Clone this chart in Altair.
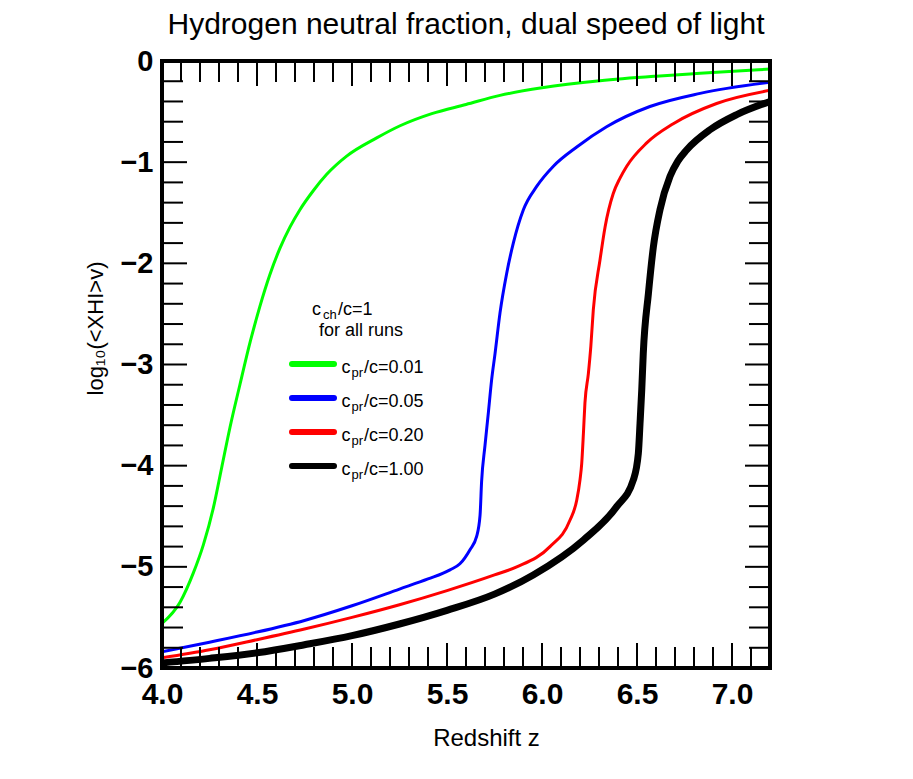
import altair as alt
import pandas as pd

# ---------------- data ----------------
series_names = ["cpr/c=0.01", "cpr/c=0.05", "cpr/c=0.20", "cpr/c=1.00"]
series_colors = ["#00ff00", "#0000ff", "#ff0000", "#000000"]
series_widths = [3, 3, 3, 7]

z_g = [4.0, 4.095, 4.165, 4.218, 4.27, 4.314, 4.358, 4.41, 4.465, 4.516, 4.568,
       4.621, 4.674, 4.726, 4.797, 4.867, 4.972, 5.13, 5.253, 5.42, 5.6, 5.779, 6.0, 6.305,
       6.6, 6.832, 7.2]
v_g = [-5.56, -5.35, -5.06, -4.78, -4.42, -4.02, -3.62, -3.20, -2.77, -2.42, -2.11,
       -1.85, -1.64, -1.47, -1.28, -1.12, -0.94, -0.76, -0.64, -0.52, -0.43, -0.34, -0.265, -0.195,
       -0.15, -0.122, -0.08]

z_b = [4.0, 4.25, 4.5, 4.75, 5.0, 5.25, 5.4, 5.516, 5.568, 5.621, 5.656, 5.674,
       5.682, 5.70, 5.718, 5.735, 5.753, 5.779, 5.814, 5.849, 5.902, 5.972, 6.06, 6.183,
       6.34, 6.568, 6.832, 7.2]
v_b = [-5.84, -5.745, -5.645, -5.53, -5.385, -5.22, -5.12, -5.03, -4.97, -4.83, -4.70, -4.49,
       -4.16, -3.80, -3.47, -3.15, -2.89, -2.49, -2.10, -1.80, -1.47, -1.24, -1.04, -0.85,
       -0.65, -0.45, -0.32, -0.21]

z_r = [4.0, 4.25, 4.5, 4.75, 5.0, 5.25, 5.5, 5.75, 5.867, 6.042, 6.147, 6.183, 6.2,
       6.209, 6.218, 6.226, 6.244, 6.257, 6.27, 6.305, 6.332, 6.375, 6.41, 6.446, 6.551, 6.691,
       6.919, 7.2]
v_r = [-5.90, -5.82, -5.72, -5.615, -5.50, -5.375, -5.235, -5.08, -5.00, -4.80, -4.54, -4.34, -4.14,
       -3.98, -3.68, -3.38, -3.09, -2.82, -2.46, -1.97, -1.64, -1.31, -1.16, -1.04, -0.81, -0.62,
       -0.42, -0.29]

z_k = [4.0, 4.25, 4.5, 4.75, 5.0, 5.25, 5.5, 5.75, 5.954, 6.218, 6.393, 6.481, 6.507,
       6.516, 6.525, 6.533, 6.56, 6.586, 6.621, 6.674, 6.715, 6.761, 6.884, 7.025, 7.2]
v_k = [-5.95, -5.905, -5.85, -5.77, -5.68, -5.565, -5.43, -5.27, -5.08, -4.735, -4.405, -4.14, -3.88,
       -3.58, -3.25, -2.89, -2.30, -1.84, -1.47, -1.14, -0.99, -0.88, -0.68, -0.53, -0.40]

x_labels = [4.0, 4.5, 5.0, 5.5, 6.0, 6.5, 7.0]
y_labels = [0, -1, -2, -3, -4, -5, -6]
x_minor = [round(4.0 + 0.1 * i, 1) for i in range(1, 32) if i % 5 != 0]
x_major = [4.5, 5.0, 5.5, 6.0, 6.5, 7.0]
y_minor = [round(-0.2 * i, 1) for i in range(1, 30) if i % 5 != 0]
y_major = [-1, -2, -3, -4, -5]

legend_sub = ["pr", "pr", "pr", "pr"]
legend_rest = ["/c=0.01", "/c=0.05", "/c=0.20", "/c=1.00"]
title_text = "Hydrogen neutral fraction, dual speed of light"

# ---------------- layout ----------------
W, H = 608, 607
FONT = "Liberation Sans"
xs = alt.Scale(domain=[4.0, 7.2], nice=False, zero=False)
ys = alt.Scale(domain=[-6, 0], nice=False, zero=False)

xaxis = alt.Axis(values=x_labels, format=".1f", ticks=False, domain=False, grid=False,
                 labelFont=FONT, labelFontSize=30, labelFontWeight="bold", labelColor="black",
                 labelPadding=11, labelFlush=False, title="Redshift z", titleFont=FONT,
                 titleFontSize=24, titleFontWeight="normal", titleColor="black",
                 titleX=324, titleY=70, titleBaseline="middle")
yaxis = alt.Axis(values=y_labels, format="d", ticks=False, domain=False, grid=False,
                 labelFont=FONT, labelFontSize=29, labelFontWeight="bold", labelColor="black",
                 labelPadding=9, labelFlush=False, title="log₁₀(<XHI>v)", titleFont=FONT,
                 titleFontSize=22, titleFontWeight="normal", titleColor="black",
                 titleX=-67, titleY=267, titleAngle=270, titleBaseline="middle",
                 titleAlign="center")

line_layers = []
for i, (name, zz, vv) in enumerate(zip(series_names, [z_g, z_b, z_r, z_k], [v_g, v_b, v_r, v_k])):
    df = pd.DataFrame({"z": zz, "v": vv, "run": name})
    line_layers.append(alt.Chart(df).mark_line(clip=True, interpolate="monotone",
                                               color=series_colors[i],
                                               strokeWidth=series_widths[i]).encode(
        x=alt.X("z:Q", scale=xs, axis=xaxis),
        y=alt.Y("v:Q", scale=ys, axis=yaxis)))

def xticks(vals, length):
    d = pd.DataFrame({"z": vals})
    base = alt.Chart(d).mark_rule(color="black", strokeWidth=2)
    bot = base.encode(x=alt.X("z:Q", scale=xs, axis=xaxis), y=alt.value(H), y2=alt.value(H - length))
    top = base.encode(x=alt.X("z:Q", scale=xs, axis=xaxis), y=alt.value(0), y2=alt.value(length))
    return [bot, top]

def yticks(vals, length):
    d = pd.DataFrame({"v": vals})
    base = alt.Chart(d).mark_rule(color="black", strokeWidth=2)
    left = base.encode(y=alt.Y("v:Q", scale=ys, axis=yaxis), x=alt.value(0), x2=alt.value(length))
    right = base.encode(y=alt.Y("v:Q", scale=ys, axis=yaxis), x=alt.value(W), x2=alt.value(W - length))
    return [left, right]

ticks = xticks(x_minor, 21) + xticks(x_major, 25) + yticks(y_minor, 21) + yticks(y_major, 25)

frame = alt.Chart(pd.DataFrame({"k": [0]})).mark_rect(fill=None, stroke="black", strokeWidth=4).encode(
    x=alt.value(0), x2=alt.value(W), y=alt.value(0), y2=alt.value(H))

title_df = pd.DataFrame({"t": [title_text]})
title = alt.Chart(title_df).mark_text(align="center", baseline="alphabetic", font=FONT,
                                      fontSize=30, color="black").encode(
    x=alt.value(W / 2), y=alt.value(-27), text="t:N")

# ---------------- manual legend ----------------
leg_rows = [303, 337, 371, 405]
leg_df = pd.DataFrame({"run": series_names, "sub": legend_sub, "rest": legend_rest,
                       "row": leg_rows})
leg_layers = []
for i, row in leg_df.iterrows():
    one = pd.DataFrame([row])
    leg_layers.append(alt.Chart(one).mark_rule(strokeWidth=6, strokeCap="round",
                                               color=series_colors[i]).encode(
        x=alt.value(130), x2=alt.value(172), y=alt.value(row["row"])))
    leg_layers.append(alt.Chart(one).mark_text(align="left", baseline="alphabetic", font=FONT,
                                               fontSize=18, color="black").encode(
        x=alt.value(179.5), y=alt.value(row["row"] + 9), text=alt.value("c")))
    leg_layers.append(alt.Chart(one).mark_text(align="left", baseline="alphabetic", font=FONT,
                                               fontSize=13, color="black").encode(
        x=alt.value(189.5), y=alt.value(row["row"] + 13), text="sub:N"))
    leg_layers.append(alt.Chart(one).mark_text(align="left", baseline="alphabetic", font=FONT,
                                               fontSize=18, color="black").encode(
        x=alt.value(202), y=alt.value(row["row"] + 9), text="rest:N"))

hdr = pd.DataFrame({"a": ["c"], "b": ["ch"], "c": ["/c=1"], "d": ["for all runs"]})
leg_layers += [
    alt.Chart(hdr).mark_text(align="left", baseline="alphabetic", font=FONT, fontSize=18,
                             color="black").encode(x=alt.value(150), y=alt.value(254), text="a:N"),
    alt.Chart(hdr).mark_text(align="left", baseline="alphabetic", font=FONT, fontSize=13,
                             color="black").encode(x=alt.value(161), y=alt.value(257.5), text="b:N"),
    alt.Chart(hdr).mark_text(align="left", baseline="alphabetic", font=FONT, fontSize=18,
                             color="black").encode(x=alt.value(176), y=alt.value(254), text="c:N"),
    alt.Chart(hdr).mark_text(align="left", baseline="alphabetic", font=FONT, fontSize=18,
                             color="black").encode(x=alt.value(157), y=alt.value(275), text="d:N"),
]

chart = alt.layer(*line_layers, *ticks, frame, title, *leg_layers).properties(
    width=W, height=H,
    padding={"left": 154, "top": 53, "right": 135, "bottom": 100},
    autosize="none",
).configure_view(stroke=None).configure(background="white")

chart.save("out.html", embed_options={"renderer": "svg", "actions": False})
